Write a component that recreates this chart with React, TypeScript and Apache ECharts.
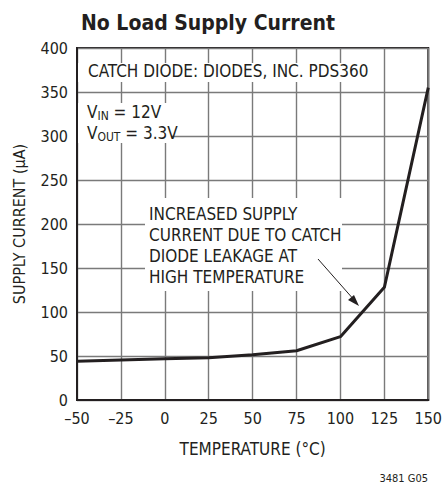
import React, { useEffect, useRef } from "react";
import * as echarts from "echarts";

const temps = [-50, -25, 0, 25, 50, 75, 100, 125, 150];
const current = [44, 45.5, 47, 48, 51.5, 56, 72, 128, 355];
const xTicks = [-50, 150, 25];
const yTicks = [0, 400, 50];

const FONT = "'Liberation Sans Narrow', 'DejaVu Sans Condensed', 'Liberation Sans', sans-serif";
const INK = "#231f20";

function measure(text: string, size: number): number {
  const c = document.createElement("canvas").getContext("2d")!;
  c.font = `${size}px ${FONT}`;
  return c.measureText(text).width;
}

function subText(x: number, y: number, main: string, sub: string, rest: string, z: number) {
  const mainSize = 17;
  const subSize = 12;
  const w1 = measure(main, mainSize);
  const w2 = measure(sub, subSize);
  const base = { fontFamily: FONT, fill: INK, verticalAlign: "middle" as const };
  return [
    { type: "text", x, y, style: { ...base, text: main, fontSize: mainSize }, z },
    { type: "text", x: x + w1, y: y + 4, style: { ...base, text: sub, fontSize: subSize }, z },
    { type: "text", x: x + w1 + w2, y, style: { ...base, text: rest, fontSize: mainSize }, z },
  ];
}

export default function App() {
  const ref = useRef<HTMLDivElement>(null);
  useEffect(() => {
    const chart = echarts.init(ref.current!, null, { renderer: "svg" });
    const option: any = {
      animation: false,
      backgroundColor: "#fff",
      title: {
        text: "No Load Supply Current",
        left: 76,
        top: 7,
        textStyle: { fontFamily: FONT, fontSize: 21, fontWeight: "bold", color: INK },
      },
      grid: {
        left: 77,
        top: 48,
        width: 352,
        height: 352,
        show: true,
        borderColor: INK,
        borderWidth: 2,
        backgroundColor: "transparent",
      },
      xAxis: {
        type: "value",
        min: xTicks[0],
        max: xTicks[1],
        interval: xTicks[2],
        name: "TEMPERATURE (°C)",
        nameLocation: "middle",
        nameGap: 40,
        nameTextStyle: { fontFamily: FONT, fontSize: 17, color: INK },
        axisLine: { show: true, onZero: false, lineStyle: { color: INK, width: 2 } },
        axisTick: { show: false },
        axisLabel: {
          fontFamily: FONT,
          fontSize: 16,
          color: INK,
          margin: 10,
          formatter: (v: number) => String(v).replace("-", "\u2013"),
        },
        splitLine: { show: true, lineStyle: { color: "#7a7a7a", width: 1.4 } },
      },
      yAxis: {
        type: "value",
        min: yTicks[0],
        max: yTicks[1],
        interval: yTicks[2],
        name: "SUPPLY CURRENT (\u00b5A)",
        nameLocation: "middle",
        nameGap: 50,
        nameTextStyle: { fontFamily: FONT, fontSize: 16, color: INK },
        axisLine: { show: true, onZero: false, lineStyle: { color: INK, width: 2 } },
        axisTick: { show: false },
        axisLabel: { fontFamily: FONT, fontSize: 16, color: INK, margin: 9 },
        splitLine: { show: true, lineStyle: { color: "#7a7a7a", width: 1.4 } },
      },
      series: [
        {
          type: "line",
          data: temps.map((t, i) => [t, current[i]]),
          symbol: "none",
          lineStyle: { color: INK, width: 3 },
          z: 5,
        },
      ],
      graphic: [
        {
          type: "rect",
          shape: { x: 78, y: 63, width: 294, height: 19 },
          style: { fill: "#fff" },
          z: 10,
        },
        {
          type: "text",
          x: 88,
          y: 71,
          style: {
            text: "CATCH DIODE: DIODES, INC. PDS360",
            fontFamily: FONT,
            fontSize: 17,
            fill: INK,
            verticalAlign: "middle",
          },
          z: 11,
        },
        {
          type: "rect",
          shape: { x: 78, y: 103, width: 93, height: 40 },
          style: { fill: "#fff" },
          z: 10,
        },
        ...subText(87, 112, "V", "IN", " = 12V", 11),
        ...subText(87, 133, "V", "OUT", " = 3.3V", 11),
        {
          type: "rect",
          shape: { x: 145, y: 198, width: 197, height: 93 },
          style: { fill: "#fff" },
          z: 10,
        },
        {
          type: "text",
          x: 149,
          y: 203,
          style: {
            text: "INCREASED SUPPLY\nCURRENT DUE TO CATCH\nDIODE LEAKAGE AT\nHIGH TEMPERATURE",
            fontFamily: FONT,
            fontSize: 17,
            lineHeight: 21,
            fill: INK,
            verticalAlign: "top",
          },
          z: 11,
        },
        {
          type: "line",
          shape: { x1: 318, y1: 259, x2: 355, y2: 301 },
          style: { stroke: INK, lineWidth: 1 },
          z: 11,
        },
        {
          type: "polygon",
          shape: { points: [[359, 306], [348, 300], [354, 295]] },
          style: { fill: INK },
          z: 11,
        },
        {
          type: "text",
          x: 428,
          y: 478,
          style: {
            text: "3481 G05",
            fontFamily: FONT,
            fontSize: 11,
            fill: INK,
            align: "right",
            verticalAlign: "middle",
          },
          z: 11,
        },
      ],
    };
    chart.setOption(option);
    return () => chart.dispose();
  }, []);
  return (
    <div
      ref={ref}
      style={{ position: "fixed", left: 0, top: 0, width: 445, height: 486 }}
    />
  );
}
